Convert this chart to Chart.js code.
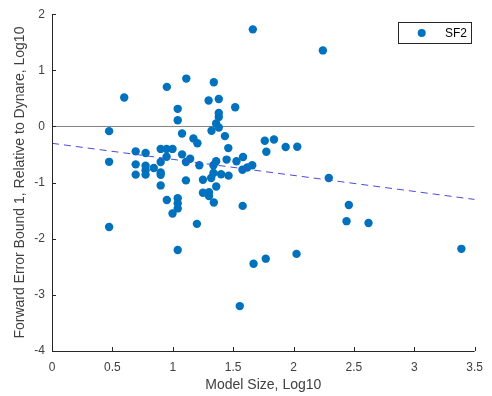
<!DOCTYPE html>
<html><head><meta charset="utf-8">
<script src="https://cdn.jsdelivr.net/npm/chart.js@4.4.1/dist/chart.umd.min.js"></script>
<style>html,body{margin:0;padding:0;background:#fff}#wrap{width:492px;height:396px}</style>
</head><body><div id="wrap"><canvas id="c" width="492" height="396"></canvas></div>
<script>
const seriesName = "SF2";
const modelSize = [1.663,2.243,0.598,0.951,1.112,1.340,1.297,1.381,1.041,1.041,1.517,1.381,1.381,1.359,1.381,1.321,0.473,1.077,1.171,1.204,1.432,1.460,1.762,1.838,1.775,1.935,2.031,0.473,0.693,0.775,0.900,0.949,0.998,0.949,1.077,1.144,1.109,0.900,0.693,0.693,0.775,0.775,0.775,0.843,0.900,0.900,0.900,0.951,1.041,1.041,1.041,0.998,1.109,1.200,0.473,1.041,1.220,1.250,1.250,1.300,1.300,1.360,1.340,1.579,1.669,1.555,1.337,1.359,1.446,1.528,1.582,1.577,1.617,1.658,1.337,1.400,1.462,1.318,2.292,2.458,2.439,2.621,3.390,2.025,1.770];
const errorBound = [1.73,1.355,0.515,0.705,0.853,0.787,0.462,0.49,0.314,0.112,0.343,0.24,0.17,0.053,-0.018,-0.077,-0.083,-0.124,-0.213,-0.30,-0.172,-0.385,-0.254,-0.231,-0.45,-0.367,-0.361,-0.63,-0.444,-0.474,-0.40,-0.40,-0.40,-0.54,-0.497,-0.574,-0.634,-0.634,-0.675,-0.858,-0.70,-0.78,-0.858,-0.74,-0.82,-0.86,-1.05,-1.31,-1.28,-1.37,-1.46,-1.55,-0.96,-1.735,-1.79,-2.20,-0.69,-1.18,-0.95,-1.17,-1.24,-1.07,-1.355,-1.415,-2.445,-3.20,-0.69,-0.62,-0.59,-0.62,-0.545,-0.77,-0.73,-0.69,-0.83,-0.85,-0.876,-0.918,-0.918,-1.40,-1.687,-1.72,-2.18,-2.27,-2.355];
const fitX = [0, 3.5];
const fitY = [-0.30, -1.30];
const zeroX = [0, 3.5];
const zeroY = [0, 0];
const xTicks = [0, 0.5, 1, 1.5, 2, 2.5, 3, 3.5];
const yTicks = [-4, -3, -2, -1, 0, 1, 2];
const xTitle = "Model Size, Log10";
const yTitle = "Forward Error Bound 1, Relative to Dynare, Log10";

const FONT = "'Liberation Sans', Arial, sans-serif";
const TXT = '#404040';
const BLUE = '#0072BD';

const pts = modelSize.map((x, i) => ({x: x, y: errorBound[i]}));
const fitPts = fitX.map((x, i) => ({x: x, y: fitY[i]}));
const zeroPts = zeroX.map((x, i) => ({x: x, y: zeroY[i]}));

const inwardTicks = {
  id: 'inwardTicks',
  afterDatasetsDraw(chart) {
    const ctx = chart.ctx, xs = chart.scales.x, ys = chart.scales.y, a = chart.chartArea;
    ctx.save();
    ctx.strokeStyle = '#262626';
    ctx.lineWidth = 1;
    ctx.beginPath();
    ctx.moveTo(a.left + 0.5, a.top);
    ctx.lineTo(a.left + 0.5, a.bottom + 0.5);
    ctx.lineTo(a.right, a.bottom + 0.5);
    xTicks.forEach(v => {
      const px = Math.round(xs.getPixelForValue(v)) + 0.5;
      ctx.moveTo(px, a.bottom);
      ctx.lineTo(px, a.bottom - 4);
    });
    yTicks.forEach(v => {
      const py = Math.round(ys.getPixelForValue(v)) + 0.5;
      ctx.moveTo(a.left, py);
      ctx.lineTo(a.left + 4, py);
    });
    ctx.stroke();
    // legend
    const lx = 398, ly = 22, lw = 73, lh = 21;
    ctx.fillStyle = '#fff';
    ctx.fillRect(lx, ly, lw, lh);
    ctx.strokeStyle = '#262626';
    ctx.strokeRect(lx + 0.5, ly + 0.5, lw, lh);
    ctx.fillStyle = BLUE;
    ctx.beginPath();
    ctx.arc(421.7, ly + lh / 2 + 0.5, 4, 0, Math.PI * 2);
    ctx.fill();
    ctx.fillStyle = '#000';
    ctx.font = '12px ' + FONT;
    ctx.textBaseline = 'middle';
    ctx.textAlign = 'left';
    ctx.fillText(seriesName, 445, ly + lh / 2 + 1);
    ctx.restore();
  }
};

new Chart(document.getElementById('c'), {
  type: 'scatter',
  data: {
    datasets: [
      {type: 'line', label: 'zero', data: zeroPts, borderColor: '#808080', borderWidth: 1, pointRadius: 0, fill: false, order: 3},
      {type: 'line', label: 'fit', data: fitPts, borderColor: '#4b4bd8', borderWidth: 1, borderDash: [7, 5], pointRadius: 0, fill: false, order: 1},
      {label: seriesName, data: pts, backgroundColor: BLUE, borderColor: BLUE, borderWidth: 0, pointRadius: 4.2, pointHoverRadius: 4.2, order: 2}
    ]
  },
  options: {
    responsive: false,
    animation: false,
    events: [],
    layout: {padding: {left: 0, right: 11, top: 12, bottom: 0}},
    plugins: {legend: {display: false}, tooltip: {enabled: false}},
    scales: {
      x: {
        type: 'linear', min: 0, max: 3.5,
        afterBuildTicks: s => { s.ticks = xTicks.map(v => ({value: v})); },
        afterFit: s => { s.height = 45; },
        grid: {display: false, drawTicks: false},
        border: {display: false},
        ticks: {padding: 9, color: TXT, font: {family: FONT, size: 12}, maxRotation: 0, autoSkip: false, callback: v => String(v)},
        title: {display: true, text: xTitle, color: TXT, font: {family: FONT, size: 14}, padding: {top: 0, bottom: 2}}
      },
      y: {
        type: 'linear', min: -4, max: 2,
        afterBuildTicks: s => { s.ticks = yTicks.map(v => ({value: v})); },
        afterFit: s => { s.width = 52; },
        grid: {display: false, drawTicks: false},
        border: {display: false},
        ticks: {padding: 7, color: TXT, font: {family: FONT, size: 12}, autoSkip: false, callback: v => String(v)},
        title: {display: true, text: yTitle, color: TXT, font: {family: FONT, size: 14}, padding: {top: 12, bottom: 0}}
      }
    }
  },
  plugins: [inwardTicks]
});
</script></body></html>
